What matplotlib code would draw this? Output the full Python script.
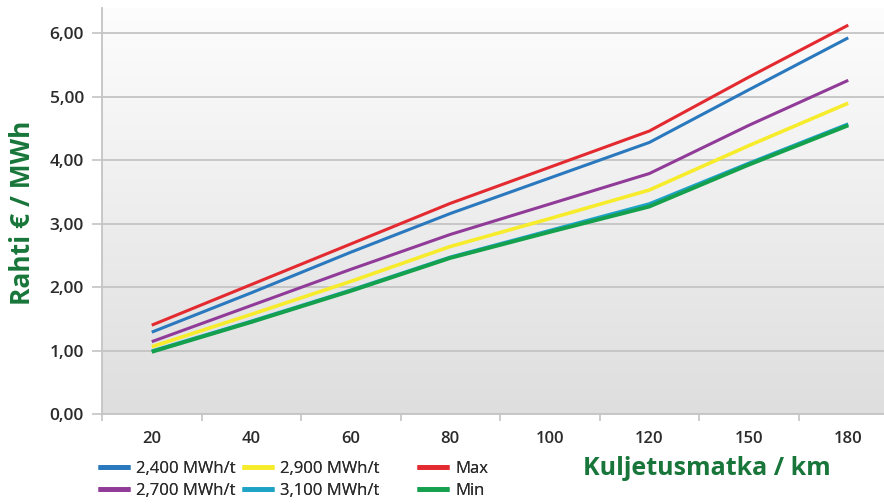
import numpy as np
import matplotlib
matplotlib.use('Agg')
import matplotlib.pyplot as plt
from matplotlib.ticker import FixedLocator, FuncFormatter

plt.rcParams['font.family'] = ['Open Sans', 'DejaVu Sans']

# --- data ---
distances = ['20', '40', '60', '80', '100', '120', '150', '180']
mwh_2400 = [1.29, 1.91, 2.55, 3.16, 3.72, 4.28, 5.11, 5.93]
mwh_2700 = [1.14, 1.71, 2.28, 2.83, 3.31, 3.79, 4.55, 5.26]
mwh_2900 = [1.06, 1.57, 2.09, 2.64, 3.08, 3.53, 4.23, 4.90]
mwh_3100 = [0.99, 1.46, 1.95, 2.47, 2.89, 3.31, 3.95, 4.57]
max_vals = [1.40, 2.04, 2.68, 3.32, 3.89, 4.46, 5.31, 6.13]
min_vals = [0.98, 1.45, 1.94, 2.46, 2.87, 3.27, 3.93, 4.55]

series = [
    ('2,400 MWh/t', mwh_2400, '#2a78bd', 2.2),
    ('2,700 MWh/t', mwh_2700, '#913b98', 2.2),
    ('2,900 MWh/t', mwh_2900, '#f7ec2c', 2.6),
    ('3,100 MWh/t', mwh_3100, '#1ea3c6', 2.6),
    ('Max', max_vals, '#e32a30', 2.2),
    ('Min', min_vals, '#14a04c', 2.8),
]

green = '#18763a'
grid_c = '#c4c4c4'
text_c = '#2b2b2b'

fig = plt.figure(figsize=(8.84, 5.04), dpi=100)
fig.patch.set_facecolor('white')
ax = fig.add_axes([102 / 884, 90 / 504, 796 / 884, 406 / 504])

# plot-area gradient (white at top, light grey at bottom)
grad = np.linspace(0, 1, 256).reshape(-1, 1)
ax.imshow(grad, extent=[0, 1, 0, 1], transform=ax.transAxes, aspect='auto',
          cmap=matplotlib.colors.LinearSegmentedColormap.from_list(
              'bg', ['#fdfdfd', '#dedede']),
          origin='upper', zorder=0, interpolation='bicubic')

x = np.arange(len(distances))
lines = []
for label, vals, col, lw in series:
    ln, = ax.plot(x, vals, color=col, lw=lw, label=label, zorder=3,
                  solid_capstyle='butt')
    lines.append(ln)

ax.set_xlim(-0.5, len(distances) - 0.5)
ax.set_ylim(0, 6.4)

ax.yaxis.set_major_locator(FixedLocator([0, 1, 2, 3, 4, 5, 6]))
ax.yaxis.set_major_formatter(FuncFormatter(lambda v, p: f'{v:.2f}'.replace('.', ',')))
ax.grid(axis='y', color=grid_c, lw=1.3, zorder=1)
ax.set_axisbelow(True)

ax.set_xticks(x)
ax.set_xticklabels(distances)
ax.set_xticks(np.arange(-0.5, len(distances), 1), minor=True)
ax.tick_params(axis='x', which='major', length=0, pad=12, labelsize=12,
               labelcolor=text_c)
ax.tick_params(axis='x', which='minor', length=5, color=grid_c, width=1.2)
ax.tick_params(axis='y', length=7, color=grid_c, width=1.2, pad=6,
               labelsize=12.5, labelcolor=text_c)
for lab in ax.get_xticklabels() + ax.get_yticklabels():
    lab.set_fontweight('semibold')

for s in ['top', 'right']:
    ax.spines[s].set_visible(False)
for s in ['left', 'bottom']:
    ax.spines[s].set_color(grid_c)
    ax.spines[s].set_linewidth(1.3)

fig.text(0.025, 0.577, 'Rahti € / MWh', rotation=90, color=green,
         fontsize=19, fontweight='bold', ha='center', va='center')
fig.text(0.80, 0.07, 'Kuljetusmatka / km', color=green,
         fontsize=18, fontweight='bold', ha='center', va='center')

# legend: three columns of two entries each
col_x = [98 / 884, 242 / 884, 417 / 884]
for i, cx in enumerate(col_x):
    leg = fig.legend(handles=lines[2 * i:2 * i + 2], loc='upper left',
                     bbox_to_anchor=(cx, 0.086), frameon=False, fontsize=12,
                     handlelength=1.9, handletextpad=0.4, labelspacing=0.36,
                     borderaxespad=0, borderpad=0)
    for t in leg.get_texts():
        t.set_color(text_c)
    for h in leg.get_lines():
        h.set_linewidth(3.4)
    fig.add_artist(leg)

fig.savefig('out.png', dpi=100)
